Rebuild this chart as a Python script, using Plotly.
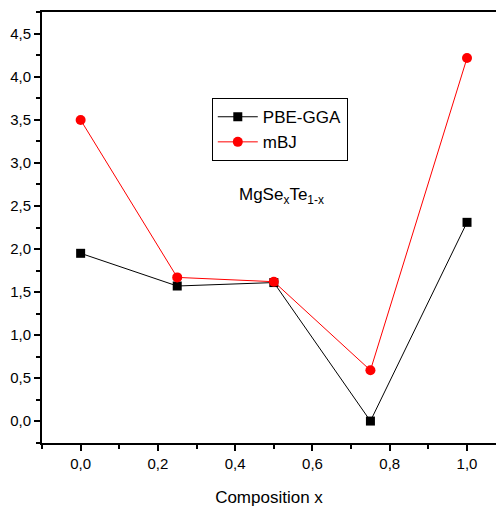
import plotly.graph_objects as go

composition = [0.0, 0.25, 0.5, 0.75, 1.0]
pbe_gga = [1.95, 1.57, 1.61, 0.0, 2.31]
mbj = [3.50, 1.67, 1.62, 0.59, 4.22]

FONT = "Liberation Sans Narrow, Arial Narrow, Liberation Sans, Arial"

fig = go.Figure()
fig.add_trace(go.Scatter(x=composition, y=pbe_gga, mode="lines+markers", name="PBE-GGA",
                         line=dict(color="black", width=1),
                         marker=dict(symbol="square", size=9, color="black")))
fig.add_trace(go.Scatter(x=composition, y=mbj, mode="lines+markers", name="mBJ",
                         line=dict(color="red", width=1),
                         marker=dict(symbol="circle", size=10, color="red")))

fig.add_annotation(x=0.52, y=2.62, xref="x", yref="y", showarrow=False,
                   text="MgSe<sub>x</sub>Te<sub>1-x</sub>",
                   font=dict(family=FONT, size=17, color="black"))

fig.update_layout(
    width=496, height=507,
    margin=dict(l=42, r=0, t=12, b=64),
    paper_bgcolor="white", plot_bgcolor="white",
    separators=",.",
    font=dict(family=FONT, size=15, color="black"),
    showlegend=True,
    legend=dict(x=0.374, y=0.80, xanchor="left", yanchor="top",
                bordercolor="black", borderwidth=1, bgcolor="white",
                font=dict(family=FONT, size=17), tracegroupgap=0, itemwidth=40),
    xaxis=dict(range=[-0.1, 1.075], tickvals=[0, 0.2, 0.4, 0.6, 0.8, 1.0], tickformat=".1f",
               ticks="outside", ticklen=6, tickwidth=1.5, tickcolor="black",
               showline=True, linecolor="black", linewidth=2, mirror=True,
               showgrid=False, zeroline=False,
               minor=dict(ticks="outside", ticklen=4, tickcolor="black", dtick=0.1, showgrid=False),
               title=dict(text="Composition x", font=dict(size=17), standoff=20)),
    yaxis=dict(range=[-0.255, 4.755], dtick=0.5, tick0=0, tickformat=".1f",
               ticks="outside", ticklen=6, tickwidth=1.5, tickcolor="black",
               showline=True, linecolor="black", linewidth=2,
               showgrid=False, zeroline=False,
               minor=dict(ticks="outside", ticklen=4, tickcolor="black", dtick=0.25, showgrid=False)),
)

fig.write_html("out.html")
